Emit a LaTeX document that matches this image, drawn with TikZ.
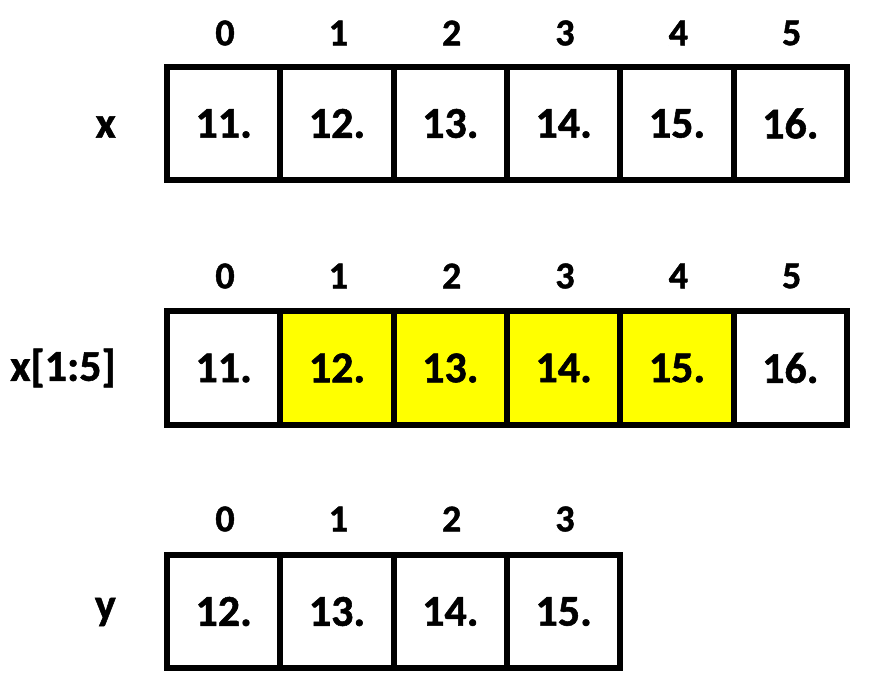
\documentclass[tikz,border=0pt]{standalone}
\usepackage{fontspec}
\setmainfont{Carlito}[BoldFont={Carlito Bold}, BoldFeatures={FakeBold=1.2}]
\definecolor{hl}{HTML}{FFFF00}
\begin{document}
\begin{tikzpicture}[x=1pt,y=-1pt,
  cell/.style={draw=black, line width=6pt, fill=white, minimum width=113.33pt, minimum height=113pt, inner sep=0pt, outer sep=0pt, font=\bfseries\fontsize{44}{52}\selectfont},
  hcell/.style={cell, fill=hl},
  idx/.style={inner sep=0pt, font=\bfseries\fontsize{38}{46}\selectfont},
  lab/.style={inner sep=0pt, anchor=east, font=\bfseries\fontsize{44}{52}\selectfont}]
\useasboundingbox (0,0) rectangle (880,692);
% row 1
\foreach \v [count=\i from 0] in {11.,12.,13.,14.,15.,16.}{
  \node[cell] (a\i) at (223.7+113.33*\i,123.5) {\v};
  \node[idx] (ai\i) at (225+113.33*\i,33) {\i};
}
\node[lab] (la) at (116,127) {x};
% row 2
\foreach \v/\s [count=\i from 0] in {11./cell,12./hcell,13./hcell,14./hcell,15./hcell,16./cell}{
  \node[\s] (b\i) at (223.7+113.33*\i,368) {\v};
  \node[idx] (bi\i) at (225+113.33*\i,276) {\i};
}
\node[lab] (lb) at (116,368) {x[1:5]};
% row 3
\foreach \v [count=\i from 0] in {12.,13.,14.,15.}{
  \node[cell] (c\i) at (223.7+113.33*\i,611.5) {\v};
  \node[idx] (ci\i) at (225+113.33*\i,519) {\i};
}
\node[lab] (lc) at (116,612) {y};
\end{tikzpicture}
\end{document}
